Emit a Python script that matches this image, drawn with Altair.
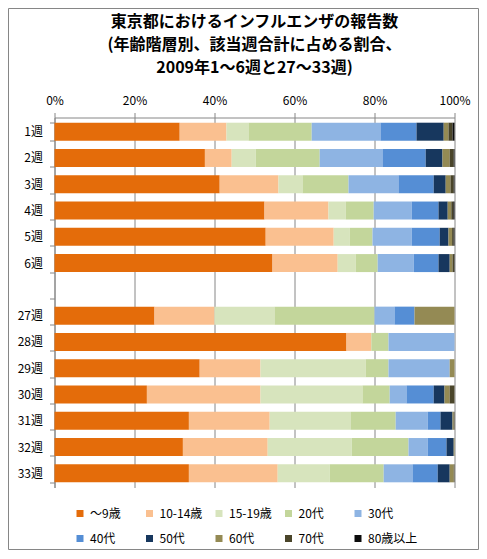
import altair as alt
import pandas as pd

weeks = ["1週", "2週", "3週", "4週", "5週", "6週",
         "27週", "28週", "29週", "30週", "31週", "32週", "33週"]
y_order = weeks[:6] + [" "] + weeks[6:]

ages = ["～9歳", "10-14歳", "15-19歳", "20代", "30代",
        "40代", "50代", "60代", "70代", "80歳以上"]
colors = ["#E46C0A", "#FAC090", "#D7E4BD", "#C3D69B", "#8EB4E3",
          "#558ED5", "#17375E", "#948A54", "#4A452A", "#0C0C0C"]

# share (%) per age group, one value per week in `weeks` order
age_0_9   = [31.3, 37.6, 41.3, 52.5, 52.8, 54.5, 25.0, 73.0, 36.3, 23.1, 33.6, 32.1, 33.6]
age_10_14 = [11.7, 6.7, 14.7, 16.0, 17.0, 16.3, 15.0, 6.2, 15.2, 28.4, 20.2, 21.2, 22.2]
age_15_19 = [5.5, 6.0, 6.0, 4.3, 4.0, 4.5, 15.0, 0.0, 26.3, 25.5, 20.2, 21.0, 13.0]
age_20s   = [15.8, 16.0, 11.5, 7.0, 5.7, 5.5, 25.0, 4.3, 5.7, 6.8, 11.3, 14.2, 13.5]
age_30s   = [17.2, 15.7, 12.5, 9.5, 9.8, 9.0, 5.0, 16.5, 15.3, 4.2, 8.0, 4.8, 7.2]
age_40s   = [9.0, 10.8, 8.8, 6.7, 7.0, 6.2, 5.0, 0.0, 0.0, 6.8, 3.2, 4.7, 6.3]
age_50s   = [6.8, 4.2, 3.0, 2.3, 2.2, 2.8, 0.0, 0.0, 0.0, 2.7, 3.0, 1.8, 3.0]
age_60s   = [1.2, 1.8, 1.2, 0.9, 0.9, 0.7, 10.0, 0.0, 1.2, 1.3, 0.3, 0.2, 1.0]
age_70s   = [1.0, 1.0, 0.8, 0.5, 0.4, 0.4, 0.0, 0.0, 0.0, 1.2, 0.2, 0.0, 0.2]
age_80p   = [0.5, 0.2, 0.2, 0.3, 0.2, 0.1, 0.0, 0.0, 0.0, 0.0, 0.0, 0.0, 0.0]

series = [age_0_9, age_10_14, age_15_19, age_20s, age_30s,
          age_40s, age_50s, age_60s, age_70s, age_80p]

rows = []
for ai, (age, vals) in enumerate(zip(ages, series)):
    for w, v in zip(weeks, vals):
        rows.append({"week": w, "age": age, "idx": ai, "value": v})
df = pd.DataFrame(rows)

FONT = "Noto Sans CJK JP"
GRAY = "#868686"

bars = alt.Chart(df).mark_bar(size=18).encode(
    x=alt.X("value:Q", stack="normalize",
            scale=alt.Scale(domain=[0, 1]),
            axis=alt.Axis(orient="top", values=[0, 0.2, 0.4, 0.6, 0.8, 1.0],
                          format=".0%", title=None, grid=True, gridColor=GRAY,
                          domainColor=GRAY, tickColor=GRAY, tickSize=5,
                          labelFlush=False, labelPadding=5, labelFontSize=12,
                          labelColor="#000000", labelFont=FONT)),
    y=alt.Y("week:N", sort=y_order,
            scale=alt.Scale(domain=y_order, paddingInner=0.32, paddingOuter=0.2),
            axis=alt.Axis(title=None, tickBand="extent", domainColor=GRAY,
                          tickColor=GRAY, tickSize=5, labelPadding=7,
                          labelFontSize=12, labelColor="#000000", labelFont=FONT,
                          grid=False)),
    color=alt.Color("age:N",
                    scale=alt.Scale(domain=ages, range=colors),
                    legend=alt.Legend(orient="none", legendX=19.5, legendY=390,
                                      direction="horizontal",
                                      columns=5, title=None, symbolType="square",
                                      symbolSize=49, symbolStrokeWidth=0,
                                      labelFontSize=12, labelFont=FONT,
                                      labelColor="#000000", labelOffset=4,
                                      columnPadding=3.5, rowPadding=13,
                                      gridAlign="all", padding=0)),
    order=alt.Order("idx:Q", sort="ascending"),
)

frame = alt.Chart(alt.Data(values=[{"a": 1}])).mark_rect(
    fill=None, stroke=GRAY, strokeWidth=1
).encode(
    x=alt.value(-46), x2=alt.value(424),
    y=alt.value(-109), y2=alt.value(432),
)

chart = alt.layer(frame, bars).properties(
    width=400, height=370,
    autosize=alt.AutoSizeParams(type="none"),
    padding={"left": 46.5, "top": 109.5, "right": 24.5, "bottom": 63.5},
    title=alt.TitleParams(
        ["東京都におけるインフルエンザの報告数",
         "(年齢階層別、該当週合計に占める割合、",
         "2009年1～6週と27～33週)"],
        font=FONT, fontSize=16, fontWeight="bold", lineHeight=23.2,
        anchor="middle", offset=-68.5, color="#000000"),
).configure_view(stroke=None)

chart.save("out.html", embed_options={"renderer": "svg", "actions": False})
